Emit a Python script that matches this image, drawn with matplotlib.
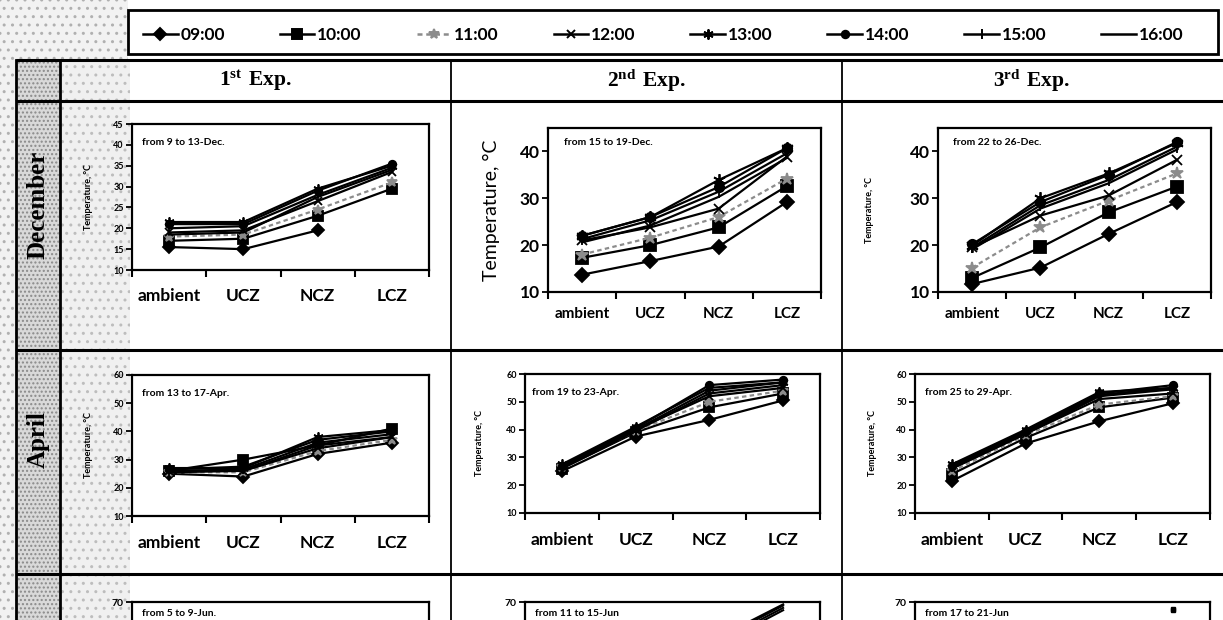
import matplotlib
matplotlib.use('Agg')
import matplotlib.pyplot as plt
from matplotlib.lines import Line2D
from matplotlib.patches import Rectangle
import numpy as np

plt.rcParams['mathtext.fontset'] = 'custom'
plt.rcParams['mathtext.rm'] = 'Liberation Serif'
plt.rcParams['mathtext.bf'] = 'Liberation Serif:bold'
plt.rcParams['hatch.linewidth'] = 1.0

# ---------------- data ----------------
zones = ['ambient', 'UCZ', 'NCZ', 'LCZ']
times = ['09:00', '10:00', '11:00', '12:00', '13:00', '14:00', '15:00', '16:00']
experiments = ['1', '2', '3']
exp_suffix = ['st', 'nd', 'rd']
months = ['December', 'April']

nan = np.nan
# rows = times (09:00 ... 16:00), columns = zones (ambient, UCZ, NCZ, LCZ)
dec_exp1 = [[15.5, 15.0, 19.5, nan],
            [17.0, 17.5, 23.0, 29.5],
            [18.0, 18.5, 24.5, 31.0],
            [19.0, 19.5, 26.5, 33.5],
            [21.5, 21.5, 29.5, 35.0],
            [21.0, 21.0, 29.0, 35.5],
            [20.0, 20.5, 28.0, 34.5],
            [18.5, 19.0, 27.5, 34.0]]
dec_exp2 = [[13.7, 16.6, 19.7, 29.2],
            [17.3, 20.0, 23.8, 32.6],
            [18.0, 21.6, 26.0, 34.2],
            [21.0, 23.8, 27.8, 38.9],
            [22.0, 26.0, 33.9, 40.7],
            [22.0, 26.0, 32.4, 40.7],
            [21.3, 25.3, 31.4, 39.6],
            [20.6, 24.2, 30.3, 38.6]]
dec_exp3 = [[11.7, 15.2, 22.4, 29.2],
            [13.0, 19.5, 27.0, 32.5],
            [15.2, 23.8, 29.5, 35.3],
            [19.5, 26.3, 30.6, 38.2],
            [19.9, 30.0, 35.3, 41.8],
            [20.2, 29.2, 35.0, 42.0],
            [19.5, 28.5, 33.9, 41.0],
            [19.1, 27.8, 33.2, 40.4]]
apr_exp1 = [[25.0, 24.0, 32.0, 36.0],
            [26.0, 30.0, 35.0, 41.0],
            [25.5, 25.5, 33.0, 37.0],
            [26.0, 26.0, 34.0, 38.0],
            [27.0, 27.0, 38.0, 40.5],
            [26.5, 27.5, 37.0, 40.0],
            [26.0, 26.5, 36.0, 39.0],
            [25.5, 26.0, 35.0, 38.0]]
apr_exp2 = [[25.0, 37.5, 43.5, 50.5],
            [26.0, 39.0, 48.0, 53.0],
            [26.5, 39.5, 50.0, 54.0],
            [27.0, 40.0, 52.0, 55.0],
            [27.5, 41.0, 55.0, 57.0],
            [27.0, 40.5, 56.0, 58.0],
            [26.5, 40.0, 54.0, 57.0],
            [26.0, 39.5, 53.0, 56.0]]
apr_exp3 = [[21.5, 35.0, 43.0, 49.5],
            [24.0, 37.0, 48.0, 51.5],
            [25.0, 38.0, 49.0, 52.0],
            [26.0, 38.5, 51.0, 53.0],
            [27.5, 40.0, 53.5, 55.0],
            [27.0, 39.5, 53.0, 56.0],
            [26.5, 39.0, 52.5, 55.0],
            [26.0, 38.5, 52.0, 54.5]]
# June row is cut off at the bottom of the picture: only the tops near LCZ show
jun_exp2_ncz = [50.0, 51.0, 52.0, 53.0]
jun_exp2_lcz = [66.5, 67.5, 68.5, 69.0]
jun_exp3_lcz = [66.5, 67.0]

periods = ['from 9 to 13-Dec.', 'from 15 to 19-Dec.', 'from 22 to 26-Dec.',
           'from 13 to 17-Apr.', 'from 19 to 23-Apr.', 'from 25 to 29-Apr.',
           'from 5 to 9-Jun.', 'from 11 to 15-Jun', 'from 17 to 21-Jun']

# ---------------- styles ----------------
styles = [dict(marker='D', color='black', ls='-', ms=1.0),
          dict(marker='s', color='black', ls='-', ms=1.1),
          dict(marker='*', color='#8c8c8c', ls=(0, (2, 1.5)), ms=1.2),
          dict(marker='x', color='black', ls='-', ms=1.0),
          dict(marker=(6, 2, 0), color='black', ls='-', ms=1.2),
          dict(marker='o', color='black', ls='-', ms=0.9),
          dict(marker='|', color='black', ls='-', ms=1.2),
          dict(marker='None', color='black', ls='-', ms=1.0)]

W, H = 1223, 620
fig = plt.figure(figsize=(W / 100, H / 100), dpi=100)
fig.patch.set_facecolor('white')

SANS = 'Lato'


def px_axes(x0, y0, x1, y1, z=1):
    return fig.add_axes([x0 / W, 1 - y1 / H, (x1 - x0) / W, (y1 - y0) / H], zorder=z)


# ---------------- table background ----------------
bg = px_axes(0, 0, W, H, z=0)
bg.set_xlim(0, W)
bg.set_ylim(H, 0)
bg.axis('off')

# stippled shading (scan texture)
bg.add_patch(Rectangle((0, 0), 128, 60, facecolor='#f2f2f2', edgecolor='#b0b0b0',
                       hatch='..', lw=0))
bg.add_patch(Rectangle((0, 60), 16, 560, facecolor='#f2f2f2', edgecolor='#b0b0b0',
                       hatch='..', lw=0))
bg.add_patch(Rectangle((16, 60), 44, 560, facecolor='#d9d9d9', edgecolor='#8a8a8a',
                       hatch='....', lw=0))
bg.add_patch(Rectangle((60, 60), 70, 560, facecolor='#f0f0f0', edgecolor='#bdbdbd',
                       hatch='..', lw=0))

# legend box
bg.add_patch(Rectangle((128, 10), 1090, 44, facecolor='white', edgecolor='black', lw=2.0))

# grid lines of the table
lw_h = 2.2
for yy in [60, 101, 350, 574]:
    bg.plot([16, W], [yy, yy], color='black', lw=lw_h, solid_capstyle='butt')
for xx in [16, 60]:
    bg.plot([xx, xx], [60, H], color='black', lw=2.0)
for xx in [451, 842]:
    bg.plot([xx, xx], [60, H], color='black', lw=1.3)

# header texts
col_centers = [255, 646, 1032]
for cx, n, suf in zip(col_centers, experiments, exp_suffix):
    bg.text(cx, 81, r'$\mathbf{%s^{%s}\ Exp.}$' % (n, suf), ha='center', va='center',
            fontsize=15.5)

# month labels
for yc, m in zip([205, 440], months):
    bg.text(38, yc, m, rotation=90, ha='center', va='center', fontsize=18,
            family='Liberation Serif', fontweight='bold')

# ---------------- legend ----------------
handles = []
for st in styles:
    handles.append(Line2D([], [], color=st['color'], ls=st['ls'], lw=1.8,
                          marker=st['marker'], ms=6 * st['ms'], mfc=st['color'],
                          mec=st['color'], mew=1.4))
fig.legend(handles, times, loc='lower left',
           bbox_to_anchor=(136 / W, 1 - 50 / H, (1190 - 136) / W, 38 / H),
           mode='expand', ncol=8, frameon=False, handlelength=2.0, handletextpad=0.15,
           borderaxespad=0, prop=dict(family=SANS, weight='bold', size=12.5))


# ---------------- panels ----------------
def panel(box, data, ylim, yticks, period, text_xy, ytick_fs, ylabel_fs, ylabel_x,
          xlab_fs, xpad, ms):
    ax = px_axes(*box, z=2)
    ax.set_facecolor('white')
    x = np.arange(len(zones))
    for row, st in zip(data, styles):
        ax.plot(x, row, color=st['color'], ls=st['ls'], lw=1.6, marker=st['marker'],
                ms=ms * st['ms'], mfc=st['color'], mec=st['color'], mew=1.3,
                clip_on=False)
    ax.set_xlim(-0.5, 3.5)
    ax.set_ylim(*ylim)
    ax.set_yticks(yticks)
    ax.set_xticks(np.arange(-0.5, 4.0, 1.0))
    ax.set_xticklabels([])
    ax.set_xticks(x, minor=True)
    ax.set_xticklabels(zones, minor=True, fontfamily=SANS, fontweight='bold',
                       fontsize=xlab_fs)
    ax.tick_params(axis='x', which='minor', length=0, pad=xpad)
    ax.tick_params(axis='x', which='major', direction='out', length=5, width=1.5)
    ax.tick_params(axis='y', direction='out', length=4, width=1.3, pad=2)
    for lab in ax.get_yticklabels():
        lab.set_fontfamily(SANS)
        lab.set_fontweight('bold')
        lab.set_fontsize(ytick_fs)
    for sp in ax.spines.values():
        sp.set_linewidth(1.6)
    ax.set_ylabel('Temperature, °C', fontfamily=SANS, fontsize=ylabel_fs,
                  fontweight='bold' if ylabel_fs < 10 else 'normal')
    ax.yaxis.set_label_coords(ylabel_x, 0.5)
    ax.text(text_xy[0], text_xy[1], period, transform=ax.transAxes, fontfamily=SANS,
            fontweight='bold', fontsize=7.5, ha='left', va='center')
    return ax


panel((132, 124, 429, 270), dec_exp1, (10, 45), np.arange(10, 46, 5), periods[0],
      (0.035, 0.87), 6.5, 6.5, -0.13, 12.5, 13, 6)
panel((548, 128, 821, 292), dec_exp2, (10, 45), np.arange(10, 41, 10), periods[1],
      (0.06, 0.91), 12.5, 14, -0.175, 11, 11, 7.5)
panel((938, 128, 1211, 292), dec_exp3, (10, 45), np.arange(10, 41, 10), periods[2],
      (0.055, 0.91), 12.5, 6.5, -0.235, 11, 11, 7.5)
panel((132, 375, 429, 516), apr_exp1, (10, 60), np.arange(10, 61, 10), periods[3],
      (0.035, 0.87), 6.5, 6.5, -0.13, 12.5, 14, 6)
panel((525, 374, 820, 513), apr_exp2, (10, 60), np.arange(10, 61, 10), periods[4],
      (0.025, 0.87), 6.5, 6.5, -0.14, 12.5, 14, 6)
panel((915, 374, 1210, 513), apr_exp3, (10, 60), np.arange(10, 61, 10), periods[5],
      (0.035, 0.87), 6.5, 6.5, -0.13, 12.5, 14, 6)

# June row (cut off by the bottom edge of the page): only the top tick shows
jun_boxes = [(132, 602, 429, 743), (525, 602, 820, 743), (915, 602, 1210, 743)]
for i, box in enumerate(jun_boxes):
    ax = px_axes(*box, z=2)
    ax.set_facecolor('white')
    ax.set_xlim(-0.5, 3.5)
    ax.set_ylim(10, 70)
    ax.set_yticks([70])
    ax.set_xticks([])
    ax.tick_params(axis='y', direction='out', length=4, width=1.3, pad=2)
    for lab in ax.get_yticklabels():
        lab.set_fontfamily(SANS)
        lab.set_fontweight('bold')
        lab.set_fontsize(7.5)
    for sp in ax.spines.values():
        sp.set_linewidth(1.6)
    ax.text(0.035, 0.92, periods[6 + i], transform=ax.transAxes, fontfamily=SANS,
            fontweight='bold', fontsize=7.5, ha='left', va='center')
    if i == 1:
        for a, b in zip(jun_exp2_ncz, jun_exp2_lcz):
            ax.plot([2, 3], [a, b], color='black', lw=1.5)
    if i == 2:
        ax.plot([3] * len(jun_exp3_lcz), jun_exp3_lcz, ls='none', marker='s', ms=3,
                color='black')

fig.savefig('out.png', dpi=100, facecolor='white')
